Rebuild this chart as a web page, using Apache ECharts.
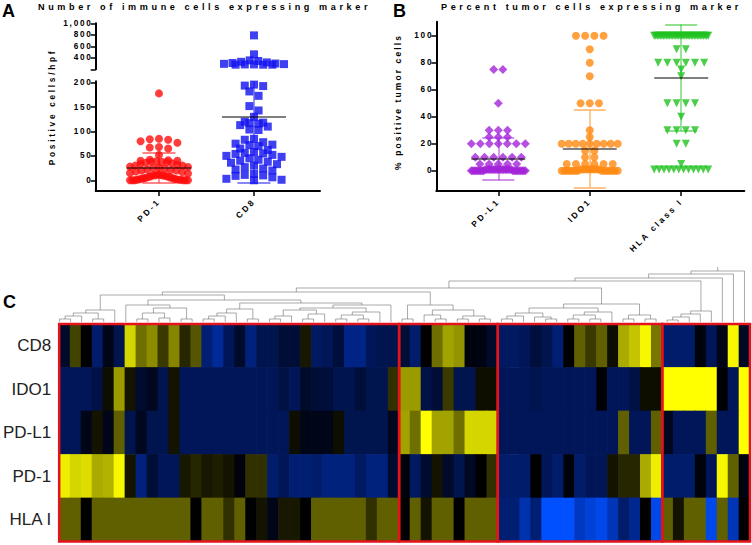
<!DOCTYPE html>
<html>
<head>
<meta charset="utf-8">
<script src="https://cdn.jsdelivr.net/npm/echarts@6/dist/echarts.min.js"></script>
<style>
  html, body { margin: 0; padding: 0; background: #fff; }
  #chart { width: 752px; height: 545px; }
  /* GraphPad-style spaced lettering, picked out by font size */
  #chart text[style*="9.1px"] { letter-spacing: 3.6px; }
  #chart text[style*="8.3px"] { letter-spacing: 2.7px; }
  #chart text[style*="8.5px"] { letter-spacing: 2.1px; }
  #chart text[style*="8.2px"] { letter-spacing: 1.8px; }
  #chart text[style*="8.4px"] { letter-spacing: 2.4px; }
</style>
</head>
<body>
<div id="chart"></div>
<script>
// ---------- panel A : immune cells per hpf ----------
const catA = ['PD-1', 'CD8'];
const pd1Cells = [178, 85, 84, 83, 80, 77, 68, 67, 65, 52, 42, 41, 40, 40, 39, 38, 38, 37, 36, 35,
  33, 32, 30, 30, 28, 27, 26, 25, 24, 22, 21, 20, 20, 18, 17, 15, 14, 12, 11, 10, 10, 10, 9, 8, 8,
  7, 6, 5, 5, 4, 3, 3, 2, 2, 1, 1, 1, 0, 0, 0, 0, 0, 0];
const cd8Cells = [790, 460, 355, 345, 330, 320, 310, 300, 295, 290, 285, 285, 280, 280, 280,
  196, 194, 193, 182, 173, 152, 143, 130, 120, 118, 117, 116, 113, 110, 104, 103, 85, 83, 78, 75,
  73, 72, 70, 65, 62, 58, 56, 55, 54, 52, 50, 48, 45, 42, 40, 38, 36, 33, 30, 27, 24, 22, 20, 13,
  11, 10, 9, 6, 3, 1, 0];
const meanA = [26, 130];
const sdA = [31, 135];
const ticksAUpper = [200, 400, 600, 800, 1000];
const labelsAUpper = [400, 600, 800, 1000];
const ticksALower = [0, 50, 100, 150, 200];

// ---------- panel B : percent tumour cells ----------
const catB = ['PD-L1', 'IDO1', 'HLA class I'];
const pdl1Pct = [75, 75, 50, 30, 30, 30, 25, 25, 25, 20, 20, 20, 20, 20, 20, 20, 10, 10, 10, 10, 10, 10,
  5, 5, 5, 5, 5, 1, 1, 1, 1, 1, 1, 1, 1, 1, 1, 1, 1, 1, 1, 1, 1, 1, 1, 0, 0, 0, 0, 0, 0, 0, 0, 0, 0,
  0, 0, 0, 0, 0, 0, 0, 0];
const ido1Pct = [100, 100, 100, 100, 90, 80, 70, 50, 50, 50, 30, 25, 20, 20, 20, 20, 20, 20, 20, 20, 20,
  15, 15, 10, 10, 5, 5, 5, 5, 5, 5, 1, 1, 1, 1, 1, 1, 1, 1, 0, 0, 0, 0, 0, 0, 0, 0, 0, 0, 0, 0, 0, 0];
const hlaPct = [100, 100, 100, 100, 100, 100, 100, 100, 100, 100, 100, 100, 100, 100, 100, 100, 100, 100,
  100, 100, 100, 100, 100, 100, 100, 100, 100, 100, 100, 100, 100, 100, 100, 100, 100, 100,
  90, 90, 80, 80, 80, 80, 80, 80, 75, 70, 50, 50, 50, 50, 40, 30, 30, 30, 30, 20, 20, 5,
  1, 1, 1, 1, 1, 1, 1, 1, 1, 1, 1, 1];
const meanB = [8.7, 16.3, 69];
const sdB = [15.6, 28.6, 39.4];
const ticksB = [0, 20, 40, 60, 80, 100];

// ---------- panel C : clustered heatmap ----------
const markers = ['CD8', 'IDO1', 'PD-L1', 'PD-1', 'HLA I'];
const heatCD8 = [-0.7, 0.7, 0, -1.5, -0.4, -1.2, 2.5, 1.2, 1.6, 0.6, 1.5, 0.4, 0.9, -1.6, -2, -1.3, -0.7,
  -1.7, -1.2, -1.2, -0.9, -0.9, 0.25, -1.4, -1.3, -1, -1.8, -1.8, -1.3, -1.2, -1.2,
  -0.9, -1.5, 0, 1.2, 1.9, 1.7, -0.2, -0.3, -0.7,
  -1.4, -1.4, -1.3, -1, -1.2, -1.6, 0, 1, 0.6, 1, 0.15, 2, 2.3, 2.9, 1.3,
  -1.5, -1.5, -1.5, -0.2, -1.3, -0.4, 2.9, -0.6];
const heatIDO1 = [-1.3, -1.3, -1.3, -1.1, 0.15, 1.8, 0.2, -0.8, -0.5, -1.2, 0.2, -1.3, -1.3, -1.3, -1.3,
  -1.3, -1.3, -1.3, -1.3, -1.3, -1.1, -1.3, -0.7, -0.9, -1, -1.2, -1.2, -1, -1.2, -1.2, 0.5,
  1.8, 1.8, -1.1, -0.9, 0.6, -1.2, -1.2, 0.15, 0.15,
  -1.3, -1.3, -1.3, -1.2, -1.3, -1.3, -1.3, -1.3, -1.3, -0.1, -1.3, -1.3, -1.1, 0.15, 0.15,
  3, 3, 3, 3, 3, -0.1, -1.3, 3];
const heatPDL1 = [-1.3, -1.3, -0.4, 0.2, -0.4, 1, -1.2, -0.5, -1.2, -1.2, 0.2, -1.3, -1.3, -1.3, -1.3,
  -1.3, -1.3, -1.3, -1.3, -1.3, -1.3, 0.15, -0.4, -0.4, -0.4, 0.15, -1.2, -1.2, -1.2, -1.2, -0.5,
  1.9, 1.2, 3, 1.9, 1.9, 1.2, 2.5, 2.5, 2.5,
  -1.3, -1.3, -1.3, -1.3, -1.3, -1.3, -1.3, -1.3, -1.3, -1.3, -1.3, 1, -1.3, -1.3, 1,
  -0.5, -1.3, -1.3, -1.3, 1, -1.3, -1.3, 3];
const heatPD1 = [2.8, 2.5, 2.6, 2, 2.1, 2.9, 0.2, -1.7, -0.9, -1.3, -1.3, 0.25, 0.4, 0.25, 0.3, 0.2, -0.2,
  0.5, 0.5, -1.5, -1.3, -1.6, -1.6, -1.5, -1.7, -1.7, -1.7, -1.4, -1.7, -1.7, -0.8,
  -0.2, -1.4, -0.8, 0.2, -0.7, -1.2, -0.6, 0, 0.5,
  -1.5, -1.5, -1.5, 0, -1.3, -1.5, -0.2, -1.5, -1.3, -1.3, 0.2, 0.4, 0.4, 2, 2.8,
  -1.5, -1.5, -1.5, -0.2, -1.3, 2.9, 1, -0.3];
const heatHLA = [1, 1, 0, 1, 1, 1, 1, 1, 1, 1, 1, 1, 0, 1, 1, 0.5, 1, 0, 0.2, -0.4, 0.25, 0.25, 0, 1, 1,
  1, 1, 1, 0.5, 1, 1,
  0, 1, 0.2, 1, 1, 0, 1, 1, 1,
  -1.6, -1.6, -2.2, -1.6, -3, -3, -3, -2.4, -2.6, -2.8, -2.3, -1.5, -1.9, 0, -2.8,
  1, 0.2, 1, 1, -2.8, 1, -2.3, 0];
const heatRows = [heatCD8, heatIDO1, heatPDL1, heatPD1, heatHLA];
const clusterBounds = [[0, 30], [31, 39], [40, 54], [55, 62]];

// dendrogram: [left, right, merge height]; numbers are column (leaf) numbers
const dgLeft1 = [[[[1, 2, 3], 3, 6], [4, 5, 3], 9], 6, 12];
const dgLeft2 = [7, [[[8, 9, 3], [10, 11, 4], 9], [12, 13, 3], 14], 17];
const dgLeft3 = [[[[14, 15, 3], 16, 6], 17, 9], [18, 19, 3], 13];
const dgLeft4 = [[[[[20, 21, 3], 22, 6], [[23, 24, 3], 25, 8], 12], [[[26, 27, 3], [28, 29, 3], 7], 30, 10], 14], 31, 17];
const dgMid = [[32, 33, 3], [[34, [35, 36, 3], 7], [[37, 38, 3], [39, 40, 3], 6], 12], 17];
const dgRight3 = [[[[[41, 42, 3], 43, 6], [44, [45, 46, 3], 5], 9], [[[47, 48, 3], [49, 50, 3], 7], 51, 10], 14], [[52, 53, 3], [54, 55, 3], 7], 18];
const dgRight4 = [[[[56, 57, 2], 58, 5], 59, 8], 60, 11];
const dendroTree = [[[[[[[dgLeft1, [dgLeft2, [dgLeft3, dgLeft4, 19], 22], 27], dgMid, 30], dgRight3, 34], dgRight4, 41], 61, 44], 62, 48], 63, 51];

// ---------- layout ----------
const FONT = 'Arial, "Liberation Sans", Helvetica, sans-serif';
const GA_UP = { left: 95.7, top: 23.3, width: 224.3, height: 46, min: 200, max: 1000 };
const GA_LO = { left: 95.7, top: 81.2, width: 224.3, height: 109.8, min: -22, max: 203 };
const XA = [0.334, 2.695];
const GB = { left: 436.3, top: 21.7, width: 308, height: 169.3, min: -15, max: 110.4 };
const XB = [0.322, 3.69];
const GD = { left: 54, top: 262, width: 696, height: 60 };
const GH = { left: 54, top: 324, width: 696, height: 217.5 };

const toPx = g => v => g.top + (g.max - v) / (g.max - g.min) * g.height;

// simple dot-plot layout: points in the same pixel band are spread sideways
function swarm(vals, cat, xr, g, size, gap, maxHalf) {
  const xPerPx = (xr[1] - xr[0]) / g.width;
  const yPx = toPx(g);
  const pts = vals.map(v => ({ v, py: yPx(v) })).sort((a, b) => a.py - b.py);
  const out = [];
  let i = 0;
  while (i < pts.length) {
    let j = i + 1;
    while (j < pts.length && pts[j].py - pts[i].py < gap) j++;
    const band = pts.slice(i, j);
    const n = band.length;
    const step = n > 1 ? Math.min(size * 1.15, 2 * maxHalf / (n - 1)) : 0;
    const slots = band.map((_, k) => k - (n - 1) / 2)
      .sort((a, b) => Math.abs(a) - Math.abs(b) || a - b);
    band.forEach((p, k) => out.push([cat + slots[k] * step * xPerPx, p.v]));
    i = j;
  }
  return out;
}

function statSeries(xi, yi, means, sds, halfMean, halfCap, colors) {
  const bars = [], meansL = [];
  means.forEach((m, i) => {
    const c = i + 1, lo = m - sds[i], hi = m + sds[i];
    const ls = { color: colors[i], width: 1.8 };
    bars.push({ coords: [[c, lo], [c, hi]], lineStyle: ls });
    bars.push({ coords: [[c - halfCap, lo], [c + halfCap, lo]], lineStyle: ls });
    bars.push({ coords: [[c - halfCap, hi], [c + halfCap, hi]], lineStyle: ls });
    meansL.push({ coords: [[c - halfMean, m], [c + halfMean, m]] });
  });
  return [
    { type: 'lines', coordinateSystem: 'cartesian2d', xAxisIndex: xi, yAxisIndex: yi, clip: true,
      z: 4, silent: true, data: bars },
    { type: 'lines', coordinateSystem: 'cartesian2d', xAxisIndex: xi, yAxisIndex: yi, clip: true,
      z: 5, silent: true, lineStyle: { color: '#000', width: 2 }, data: meansL }
  ];
}

function dendroSegments(node, segs) {
  if (typeof node === 'number') return { x: node - 1, h: 0 };
  const a = dendroSegments(node[0], segs);
  const b = dendroSegments(node[1], segs);
  const h = node[2];
  segs.push({ coords: [[a.x, a.h], [a.x, h], [b.x, h], [b.x, b.h]] });
  return { x: (a.x + b.x) / 2, h };
}
const dendroSegs = [];
const rootPos = dendroSegments(dendroTree, dendroSegs);
dendroSegs.push({ coords: [[rootPos.x, rootPos.h], [rootPos.x, rootPos.h + 4]] });

const heatData = [];
heatRows.forEach((row, r) => row.forEach((v, c) => heatData.push([c, r, v])));

const fmtNum = v => v >= 1000 ? String(v).replace(/\B(?=(\d{3})+(?!\d))/g, ',') : String(v);

function yAx(gridIndex, g, ticks, labels, fmt) {
  return {
    type: 'value', gridIndex, min: g.min, max: g.max,
    axisLine: { show: true, onZero: false, lineStyle: { color: '#000', width: 2 } },
    axisTick: { show: true, length: 5, customValues: ticks, lineStyle: { color: '#000', width: 1.5 } },
    axisLabel: { show: true, customValues: labels, margin: 3, fontSize: 8.2, fontWeight: 'bold',
      color: '#000', fontFamily: FONT, formatter: fmt },
    splitLine: { show: false }
  };
}
function xAx(gridIndex, xr, cats, show) {
  const vals = cats.map((c, i) => i + 1);
  return {
    type: 'value', gridIndex, min: xr[0], max: xr[1], show,
    axisLine: { onZero: false, lineStyle: { color: '#000', width: 2 } },
    axisTick: { length: 5, customValues: vals, lineStyle: { color: '#000', width: 1.5 } },
    axisLabel: { customValues: vals, rotate: 45, margin: 9, fontSize: 8.4, fontWeight: 'bold',
      color: '#000', fontFamily: FONT, formatter: v => cats[Math.round(v) - 1] || '' },
    splitLine: { show: false }
  };
}
const gridOf = g => ({ left: g.left, top: g.top, width: g.width, height: g.height });

const chart = echarts.init(document.getElementById('chart'), null, { renderer: 'svg', width: 752, height: 545 });

chart.setOption({
  backgroundColor: '#fff',
  animation: false,
  grid: [gridOf(GA_UP), gridOf(GA_LO), gridOf(GB), gridOf(GD), gridOf(GH)],
  xAxis: [
    xAx(0, XA, catA, false),
    xAx(1, XA, catA, true),
    xAx(2, XB, catB, true),
    { type: 'value', gridIndex: 3, min: -0.5, max: 62.5, show: false },
    { type: 'category', gridIndex: 4, data: heatCD8.map((v, i) => String(i + 1)), show: false }
  ],
  yAxis: [
    yAx(0, GA_UP, ticksAUpper, labelsAUpper, fmtNum),
    yAx(1, GA_LO, ticksALower, ticksALower, fmtNum),
    yAx(2, GB, ticksB, ticksB, fmtNum),
    { type: 'value', gridIndex: 3, min: 0, max: 60, show: false },
    { type: 'category', gridIndex: 4, data: markers, inverse: true,
      axisLine: { show: false }, axisTick: { show: false },
      axisLabel: { fontSize: 17, color: '#222', fontFamily: FONT, margin: 8 } }
  ],
  visualMap: {
    type: 'continuous', show: false, seriesIndex: 0, dimension: 2, min: -3, max: 3,
    inRange: { color: ['#0050ff', '#002a98', '#000e3c', '#000000', '#606000', '#aaaa00', '#ffff00'] }
  },
  graphic: [
    { type: 'text', x: 2, y: 2, style: { text: 'A', fontSize: 18, fontWeight: 'bold', fontFamily: FONT, fill: '#000' } },
    { type: 'text', x: 393, y: 2, style: { text: 'B', fontSize: 18, fontWeight: 'bold', fontFamily: FONT, fill: '#000' } },
    { type: 'text', x: 3, y: 293, style: { text: 'C', fontSize: 18, fontWeight: 'bold', fontFamily: FONT, fill: '#000' } },
    { type: 'text', x: 38, y: 6.5, style: { text: 'Number of immune cells expressing marker', fontSize: 9.1,
      fontWeight: 'bold', fontFamily: FONT, fill: '#000', verticalAlign: 'middle' } },
    { type: 'text', x: 441, y: 6.5, style: { text: 'Percent tumor cells expressing marker', fontSize: 9.1,
      fontWeight: 'bold', fontFamily: FONT, fill: '#000', verticalAlign: 'middle' } },
    { type: 'text', x: 52, y: 107, rotation: Math.PI / 2, style: { text: 'Positive cells/hpf', fontSize: 8.3,
      fontWeight: 'bold', fontFamily: FONT, fill: '#000', align: 'center', verticalAlign: 'middle' } },
    { type: 'text', x: 398, y: 102, rotation: Math.PI / 2, style: { text: '% positive tumor cells', fontSize: 8.5,
      fontWeight: 'bold', fontFamily: FONT, fill: '#000', align: 'center', verticalAlign: 'middle' } }
  ],
  series: [
    // heatmap cells, drawn slightly oversized so the svg shows no seams
    { type: 'custom', xAxisIndex: 4, yAxisIndex: 4, silent: true, data: heatData,
      encode: { x: 0, y: 1 },
      renderItem: (params, api) => {
        const p = api.coord([api.value(0), api.value(1)]);
        const s = api.size([1, 1]);
        return { type: 'rect',
          shape: { x: p[0] - s[0] / 2 - 0.35, y: p[1] - s[1] / 2 - 0.35, width: s[0] + 0.7, height: s[1] + 0.7 },
          style: { fill: api.visual('color') } };
      } },
    { type: 'custom', xAxisIndex: 4, yAxisIndex: 4, z: 10, silent: true,
      data: clusterBounds.map(b => [b[0], 0, b[1]]),
      renderItem: (params, api) => {
        const cs = params.coordSys;
        const w = api.size([1, 0])[0];
        const x0 = api.coord([api.value(0), 0])[0] - w / 2;
        const x1 = api.coord([api.value(2), 0])[0] + w / 2;
        return { type: 'rect', shape: { x: x0, y: cs.y, width: x1 - x0, height: cs.height },
          style: { fill: 'none', stroke: '#e3141b', lineWidth: 2.5 } };
      } },
    { type: 'lines', coordinateSystem: 'cartesian2d', xAxisIndex: 3, yAxisIndex: 3, polyline: true,
      silent: true, lineStyle: { color: '#555', width: 1 }, data: dendroSegs },

    { type: 'scatter', xAxisIndex: 1, yAxisIndex: 1, symbol: 'circle', symbolSize: 8, silent: true,
      itemStyle: { color: '#ff0d0d' }, data: swarm(pd1Cells, 1, XA, GA_LO, 8, 6, 29) },
    { type: 'scatter', xAxisIndex: 1, yAxisIndex: 1, symbol: 'rect', symbolSize: 8, silent: true,
      itemStyle: { color: '#1010f0' }, data: swarm(cd8Cells.filter(v => v <= 200), 2, XA, GA_LO, 8, 6, 30) },
    { type: 'scatter', xAxisIndex: 0, yAxisIndex: 0, symbol: 'rect', symbolSize: 8, silent: true,
      itemStyle: { color: '#1010f0' }, data: swarm(cd8Cells.filter(v => v > 200), 2, XA, GA_UP, 8, 4, 30) },
    ...statSeries(1, 1, meanA, sdA, 0.337, 0.174, ['#ff0d0d', '#1010f0']),

    { type: 'scatter', xAxisIndex: 2, yAxisIndex: 2, symbol: 'diamond', symbolSize: 9, silent: true,
      itemStyle: { color: '#a424d8' }, data: swarm(pdl1Pct, 1, XB, GB, 8, 3, 27) },
    { type: 'scatter', xAxisIndex: 2, yAxisIndex: 2, symbol: 'circle', symbolSize: 8, silent: true,
      itemStyle: { color: '#ff8a12' }, data: swarm(ido1Pct, 2, XB, GB, 8, 3, 28) },
    { type: 'scatter', xAxisIndex: 2, yAxisIndex: 2, symbol: 'triangle', symbolRotate: 180, symbolSize: 8,
      silent: true, itemStyle: { color: '#1fc21f' }, data: swarm(hlaPct, 3, XB, GB, 8, 3, 27) },
    ...statSeries(2, 2, meanB, sdB, 0.295, 0.175, ['#a424d8', '#ff8a12', '#1fc21f'])
  ]
});
</script>
</body>
</html>
